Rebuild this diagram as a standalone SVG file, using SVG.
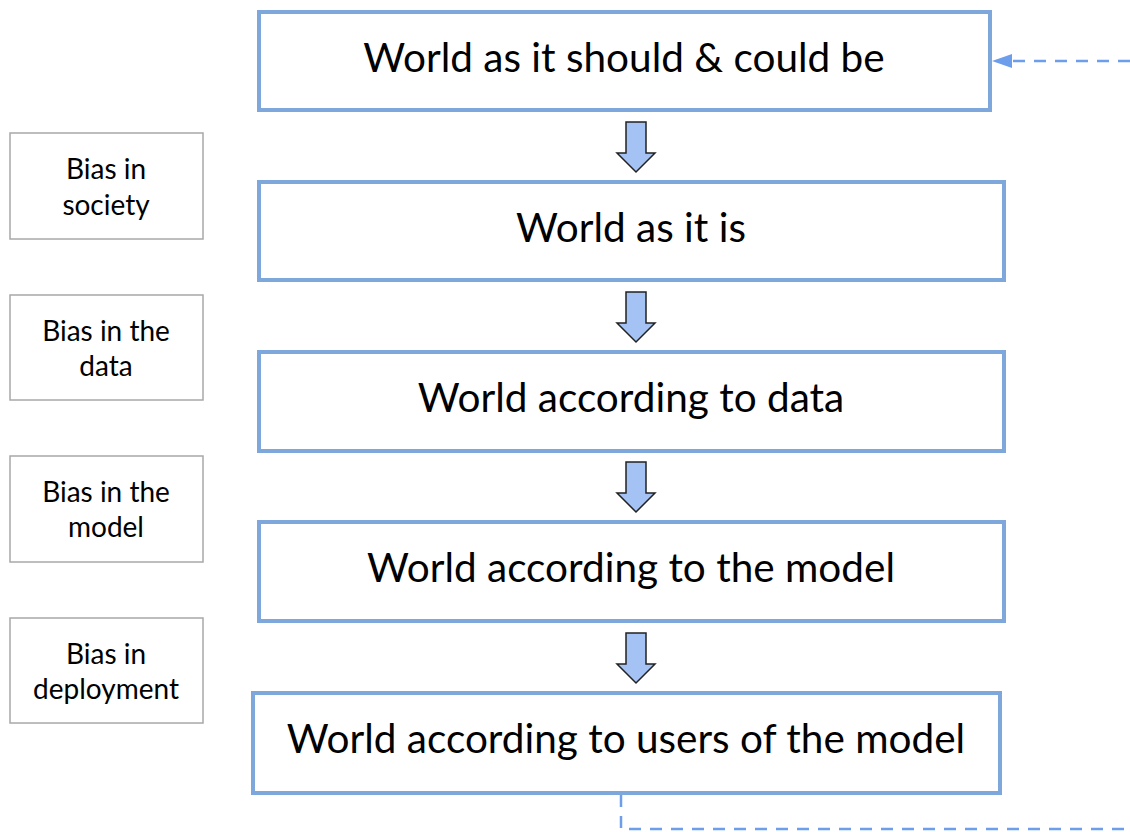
<svg xmlns="http://www.w3.org/2000/svg" width="1130" height="832" viewBox="0 0 1130 832">
<style>
.main{fill:#fff;stroke:#7ea7dc;stroke-width:4}
.side{fill:#fff;stroke:#a8a8a8;stroke-width:1.5}
.t{font-family:Lato,"Open Sans",sans-serif;font-size:40.5px;fill:#000;text-anchor:middle}
.s{font-family:Lato,"Open Sans",sans-serif;font-size:28px;fill:#000;text-anchor:middle}
.arr{fill:#a4c2f4;stroke:#222;stroke-width:1.5;stroke-linejoin:miter}
.dash{fill:none;stroke:#6d9eeb;stroke-width:2.5;stroke-dasharray:12 9}
</style>
<defs>
<path id="down" d="M-10,0 H10 V31 H19 L0,50 L-19,31 H-10 Z"/>
</defs>
<g id="connectors">
<path class="dash" d="M621,795 V829 H1130"/>
<path class="dash" d="M1130,61 H1008"/>
<path d="M1012,54 L992,61 L1012,68 Z" fill="#6d9eeb"/>
<use href="#down" class="arr" x="636" y="122"/>
<use href="#down" class="arr" x="636" y="292"/>
<use href="#down" class="arr" x="636" y="462"/>
<use href="#down" class="arr" x="636" y="633"/>
</g>
<g id="n1"><rect class="main" x="259" y="12" width="731" height="98"/><text class="t" x="624" y="72">World as it should &amp; could be</text></g>
<g id="n2"><rect class="main" x="259" y="182" width="745" height="98"/><text class="t" x="631" y="242">World as it is</text></g>
<g id="n3"><rect class="main" x="259" y="352" width="745" height="99"/><text class="t" x="631" y="412">World according to data</text></g>
<g id="n4"><rect class="main" x="259" y="522" width="745" height="99"/><text class="t" x="631" y="582">World according to the model</text></g>
<g id="n5"><rect class="main" x="253" y="693" width="747" height="100"/><text class="t" x="626" y="753">World according to users of the model</text></g>
<g id="b1"><rect class="side" x="10" y="133" width="193" height="106"/><text class="s" x="106" y="179">Bias in</text><text class="s" x="106" y="215">society</text></g>
<g id="b2"><rect class="side" x="10" y="295" width="193" height="105"/><text class="s" x="106" y="341">Bias in the</text><text class="s" x="106" y="376">data</text></g>
<g id="b3"><rect class="side" x="10" y="456" width="193" height="106"/><text class="s" x="106" y="502">Bias in the</text><text class="s" x="106" y="537">model</text></g>
<g id="b4"><rect class="side" x="10" y="618" width="193" height="105"/><text class="s" x="106" y="664">Bias in</text><text class="s" x="106" y="699">deployment</text></g>
</svg>
